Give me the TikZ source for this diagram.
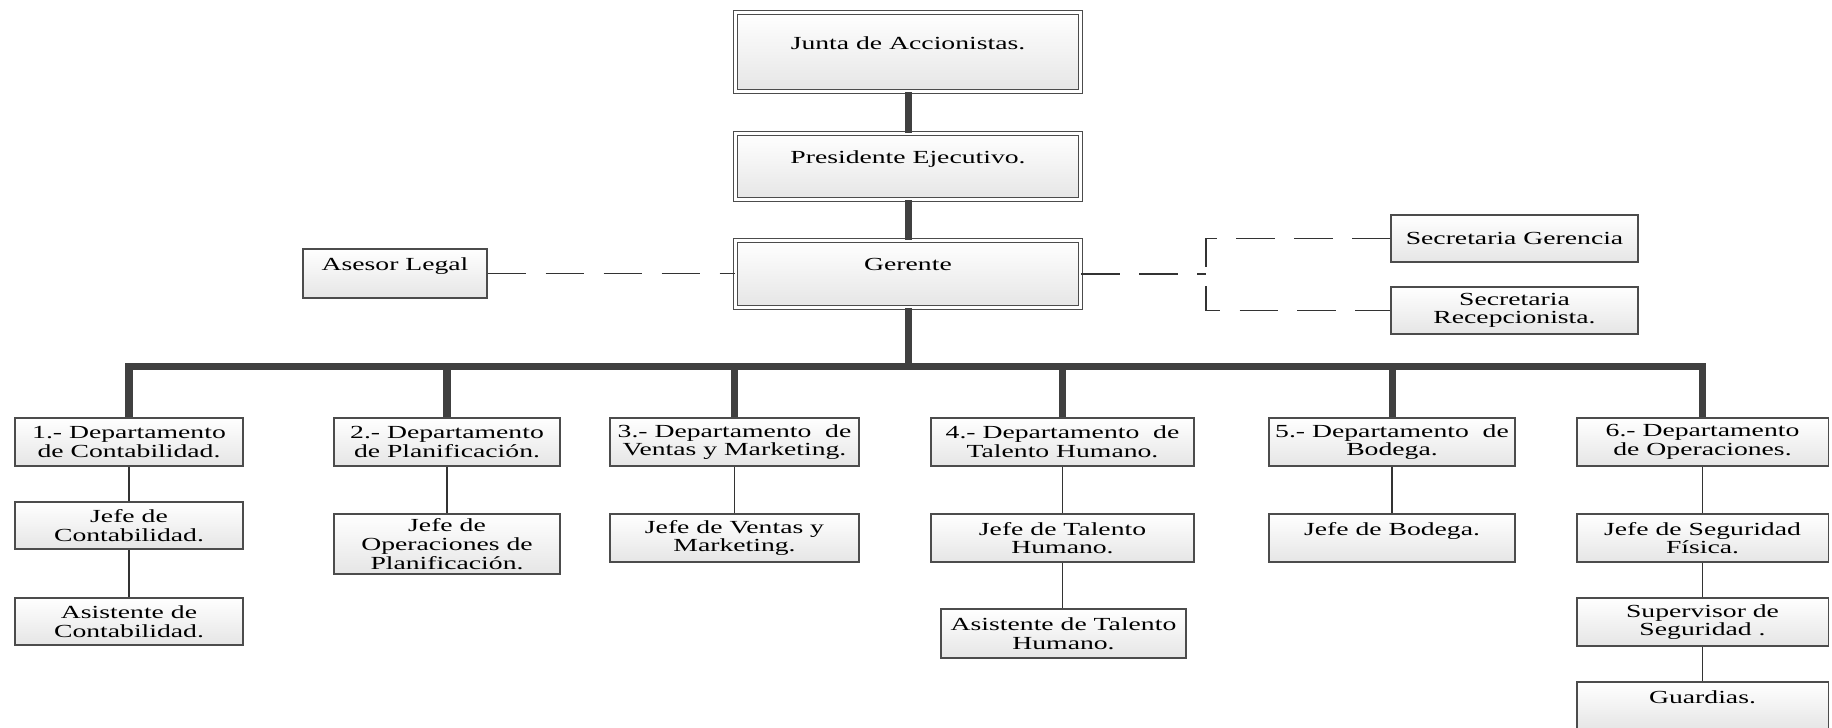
\documentclass[tikz,border=0pt]{standalone}
\usepackage{fontspec}
\setmainfont{Liberation Serif}[FakeStretch=1.5]
\usetikzlibrary{shadows}

\begin{document}
\begin{tikzpicture}
\tikzstyle{every node}=[font=\fontsize{10.5}{10.6}\selectfont, align=center, inner sep=0pt]
\tikzstyle{unit}=[draw=black!70, line width=0.6pt, top color=white, bottom color=black!10, drop shadow={shadow xshift=0.8pt, shadow yshift=-0.8pt, fill=black!30, opacity=0.5}, minimum height=0.96cm]
\tikzstyle{head}=[unit, double=white, double distance=1.6pt, minimum width=6.9cm]
\tikzstyle{trunk}=[line width=4pt, draw=black!75]
\tikzstyle{branch}=[line width=1pt, draw=black!80]
\tikzstyle{advice}=[line width=0.7pt, draw=black!80, dash pattern=on 22pt off 11pt]
\useasboundingbox (0,0) rectangle (36.64,-14.54);
% direccion
\node[head, minimum height=1.58cm] (junta) at (18.16,-1.04) {Junta de Accionistas.\\ \mbox{}};
\node[head, minimum height=1.32cm] (pres) at (18.16,-3.33) {Presidente Ejecutivo.\\ \mbox{}};
\node[head, minimum height=1.34cm] (ger) at (18.16,-5.48) {Gerente\\ \mbox{}};
\node[unit, minimum width=3.68cm, minimum height=0.98cm] (asesor) at (7.90,-5.47) {Asesor Legal\\ \mbox{}};
\node[unit, minimum width=4.94cm, minimum height=0.94cm] (secg) at (30.29,-4.77) {Secretaria Gerencia};
\node[unit, minimum width=4.94cm, minimum height=0.94cm] (secr) at (30.29,-6.21) {Secretaria\\Recepcionista.};
% departamentos
\node[unit, minimum width=4.56cm] (dep1) at (2.58,-8.84) {1.- Departamento\\de Contabilidad.};
\node[unit, minimum width=4.52cm] (dep2) at (8.94,-8.84) {2.- Departamento\\de Planificación.};
\node[unit, minimum width=4.98cm] (dep3) at (14.69,-8.84) {3.- Departamento~~de\\Ventas y Marketing.};
\node[unit, minimum width=5.26cm] (dep4) at (21.25,-8.84) {4.- Departamento~~de\\Talento Humano.};
\node[unit, minimum width=4.92cm] (dep5) at (27.84,-8.84) {5.- Departamento~~de\\Bodega.};
\node[unit, minimum width=5.02cm] (dep6) at (34.05,-8.84) {6.- Departamento\\de Operaciones.};
% jefaturas
\node[unit, minimum width=4.56cm, minimum height=0.94cm] (jcont) at (2.58,-10.51) {Jefe de\\Contabilidad.};
\node[unit, minimum width=4.52cm, minimum height=1.2cm] (jplan) at (8.94,-10.88) {Jefe de\\Operaciones de\\Planificación.};
\node[unit, minimum width=4.98cm] (jvent) at (14.69,-10.76) {Jefe de Ventas y\\Marketing.};
\node[unit, minimum width=5.26cm] (jtal) at (21.25,-10.76) {Jefe de Talento\\Humano.};
\node[unit, minimum width=4.92cm] (jbod) at (27.84,-10.76) {Jefe de Bodega.\\ \mbox{}};
\node[unit, minimum width=5.02cm] (jseg) at (34.05,-10.76) {Jefe de Seguridad\\Física.};
% asistentes
\node[unit, minimum width=4.56cm, minimum height=0.94cm] (acont) at (2.58,-12.43) {Asistente de\\Contabilidad.};
\node[unit, minimum width=4.90cm, minimum height=0.98cm] (atal) at (21.27,-12.67) {Asistente de Talento\\Humano.};
\node[unit, minimum width=5.02cm] (sup) at (34.05,-12.44) {Supervisor de\\Seguridad .};
\node[unit, minimum width=5.02cm] (guard) at (34.05,-14.12) {Guardias.\\ \mbox{}};
% lineas de mando
\draw[trunk] (junta) -- (pres);
\draw[trunk] (pres) -- (ger);
\draw[trunk] (ger.south) -- ++(0,-1.16) coordinate (bus);
\draw[trunk] (dep1.north) -- (dep1.north |- bus) -- (dep6.north |- bus) -- (dep6.north);
\draw[trunk] (dep2.north) -- (dep2.north |- bus);
\draw[trunk] (dep3.north) -- (dep3.north |- bus);
\draw[trunk] (dep4.north) -- (dep4.north |- bus);
\draw[trunk] (dep5.north) -- (dep5.north |- bus);
\draw[branch] (dep1) -- (jcont) -- (acont);
\draw[branch] (dep2) -- (jplan);
\draw[branch] (dep3) -- (jvent);
\draw[branch] (dep4) -- (jtal);
\draw[branch] (jtal.south) -- (jtal.south |- atal.north);
\draw[branch] (dep5) -- (jbod);
\draw[branch] (dep6) -- (jseg) -- (sup) -- (guard);
% staff
\coordinate (fork) at (24.12,-5.48);
\draw[advice] (asesor.east) -- (asesor.east -| ger.west);
\draw[advice] (ger.east) -- (fork);
\draw[advice] (secg.west) -| (fork) |- (secr.west);
\end{tikzpicture}
\end{document}
